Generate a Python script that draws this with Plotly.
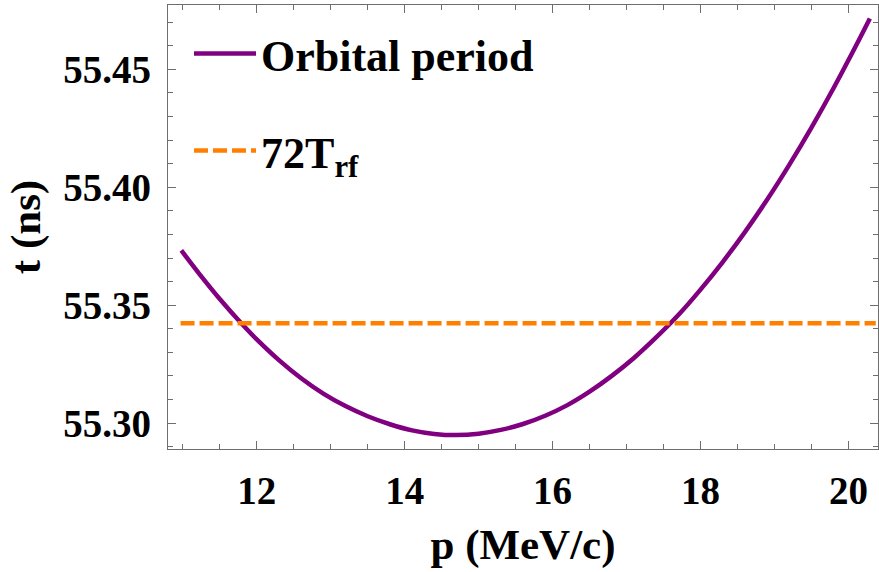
import plotly.graph_objects as go

# Orbital period t (ns) versus momentum p (MeV/c)
p_vals = [10.98, 11.25, 11.50, 11.80, 12.00, 12.30, 12.60, 12.90, 13.20, 13.50,
          13.80, 14.10, 14.40, 14.70, 15.00, 15.30, 15.60, 15.90, 16.20, 16.50,
          16.80, 17.10, 17.40, 17.70, 18.00, 18.30, 18.60, 18.90, 19.20, 19.50,
          19.80, 20.10, 20.29]
t_vals = [55.3732, 55.3622, 55.3526, 55.3420, 55.3355, 55.3267, 55.3190, 55.3125,
          55.3072, 55.3029, 55.2995, 55.2969, 55.2954, 55.2949, 55.2955, 55.2971,
          55.2996, 55.3031, 55.3076, 55.3133, 55.3200, 55.3276, 55.3363, 55.3458,
          55.3566, 55.3683, 55.3810, 55.3947, 55.4095, 55.4253, 55.4421, 55.4599,
          55.4716]

# 72 RF periods (constant reference)
rf_p = [10.97, 20.37]
rf_t = [55.3423, 55.3423]

x_ticks = [12, 14, 16, 18, 20]
y_ticks = [55.30, 55.35, 55.40, 55.45]

FONT = "Liberation Serif, Times New Roman, Times, serif"
AXIS_COLOR = "#6e6e6e"
TICK_FS = 39
TITLE_FS = 43
LEGEND_FS = 44

fig = go.Figure()
fig.add_trace(go.Scatter(
    x=p_vals, y=t_vals, mode="lines", name="Orbital period",
    line=dict(color="#800080", width=4.5, shape="spline", smoothing=0.8),
    legend="legend", showlegend=True,
))
fig.add_trace(go.Scatter(
    x=rf_p, y=rf_t, mode="lines", name="72T<sub>rf</sub>",
    line=dict(color="#FF8000", width=4.5, dash="14px,5px"),
    legend="legend2", showlegend=True,
))

axis_common = dict(
    showline=True, linecolor=AXIS_COLOR, linewidth=1.2, mirror="ticks",
    ticks="inside", ticklen=8, tickwidth=1.2, tickcolor=AXIS_COLOR,
    showgrid=False, zeroline=False,
    tickfont=dict(family=FONT, size=TICK_FS, color="black", weight="bold"),
)

fig.update_xaxes(
    range=[10.80, 20.40], tickvals=x_ticks, ticktext=[str(v) for v in x_ticks],
    minor=dict(ticks="inside", ticklen=5, tickwidth=1.2, tickcolor=AXIS_COLOR,
               dtick=0.5, tick0=0),
    title=dict(text="p (MeV/c)", standoff=17,
               font=dict(family=FONT, size=TITLE_FS, color="black", weight="bold")),
    ticklabelstandoff=7,
    **axis_common,
)
fig.update_yaxes(
    range=[55.289, 55.4773], tickvals=y_ticks, ticktext=[f"{v:.2f}" for v in y_ticks],
    minor=dict(ticks="inside", ticklen=5, tickwidth=1.2, tickcolor=AXIS_COLOR,
               dtick=0.01, tick0=55.30),
    title=dict(text="t (ns)", standoff=9,
               font=dict(family=FONT, size=TITLE_FS, color="black", weight="bold")),
    ticklabelstandoff=8,
    **axis_common,
)

legend_font = dict(family=FONT, size=LEGEND_FS, color="black", weight="bold")
fig.update_layout(
    width=879, height=572,
    margin=dict(l=168, r=1, t=5, b=123),
    paper_bgcolor="white", plot_bgcolor="white",
    showlegend=True,
    legend=dict(x=0.0296, y=(449 - 54) / 444, xanchor="left", yanchor="middle",
                bgcolor="rgba(0,0,0,0)", font=legend_font, itemwidth=62,
                visible=True),
    legend2=dict(x=0.0296, y=(449 - 151) / 444, xanchor="left", yanchor="middle",
                 bgcolor="rgba(0,0,0,0)", font=legend_font, itemwidth=62,
                 visible=True),
)

fig.write_html("out.html")
